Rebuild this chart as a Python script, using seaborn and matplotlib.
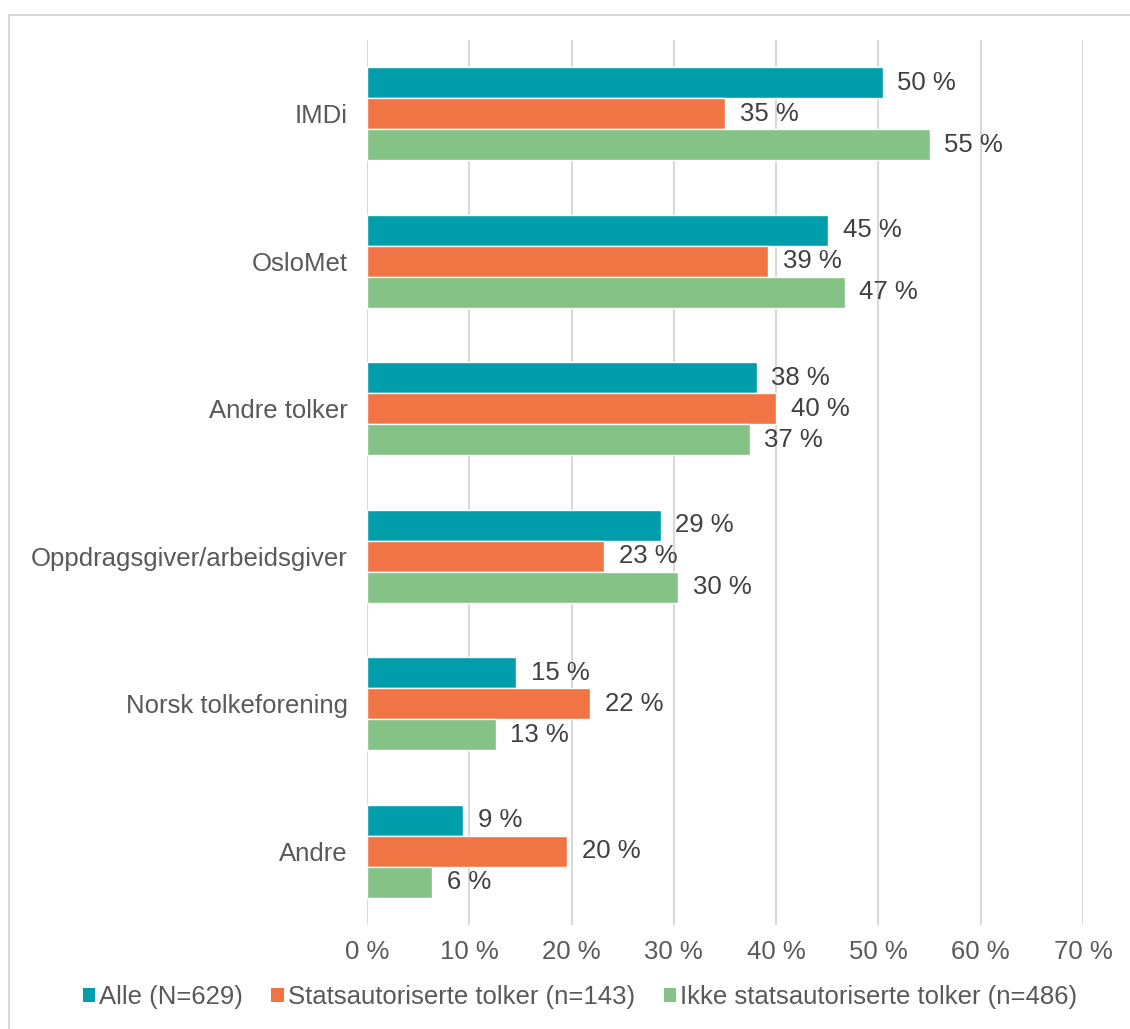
import matplotlib
matplotlib.use("Agg")
import matplotlib.pyplot as plt
import seaborn as sns
import pandas as pd
from matplotlib.patches import Patch, Rectangle

categories = ["IMDi", "OsloMet", "Andre tolker", "Oppdragsgiver/arbeidsgiver",
              "Norsk tolkeforening", "Andre"]
series = ["Alle (N=629)", "Statsautoriserte tolker (n=143)",
          "Ikke statsautoriserte tolker (n=486)"]
alle = [50.4, 45.1, 38.1, 28.7, 14.6, 9.4]
stats = [35.0, 39.2, 40.0, 23.2, 21.8, 19.6]
ikke = [55.0, 46.7, 37.4, 30.4, 12.6, 6.4]
xticks = [0, 10, 20, 30, 40, 50, 60, 70]
colors = ["#009DAA", "#F07444", "#84C285"]

rows = []
for s, vals in zip(series, [alle, stats, ikke]):
    for c, v in zip(categories, vals):
        rows.append({"kategori": c, "serie": s, "verdi": v})
df = pd.DataFrame(rows)

sns.set_style("white")
plt.rcParams["font.family"] = ["Liberation Sans", "DejaVu Sans"]
FS = 18.5

W, H = 1130, 1029
fig = plt.figure(figsize=(W / 100, H / 100), dpi=100)
ax = fig.add_axes([367 / W, 1 - 925 / H, (1083 - 367) / W, (925 - 40) / H])

sns.barplot(data=df, y="kategori", x="verdi", hue="serie", orient="h",
            order=categories, hue_order=series, palette=colors,
            width=0.63, saturation=1, ax=ax, legend=False, errorbar=None)

for cont in ax.containers:
    ax.bar_label(cont, labels=[f"{b.get_width():.0f} %" for b in cont],
                 padding=10.5, fontsize=FS, color="#404040")

ax.set_xlim(0, 70)
ax.set_ylim(5.5, -0.5)
ax.set_xticks(xticks)
ax.set_xticklabels([f"{t} %" for t in xticks])
ax.xaxis.grid(True, color="#D9D9D9", linewidth=1.5)
ax.yaxis.grid(False)
ax.set_axisbelow(True)
for sp in ax.spines.values():
    sp.set_visible(False)
ax.tick_params(axis="x", length=0, pad=11, labelsize=FS, labelcolor="#595959")
ax.tick_params(axis="y", length=0, pad=14, labelsize=FS, labelcolor="#595959")
ax.set_xlabel("")
ax.set_ylabel("")

fig.patches.append(Rectangle((9 / W, -0.1), 1.2, 1 - 15 / H + 0.1,
                             transform=fig.transFigure, fill=False,
                             edgecolor="#D9D9D9", linewidth=1.5))

handles = [Patch(facecolor=c, edgecolor="none") for c in colors]
fig.legend(handles, series, loc="center", bbox_to_anchor=(580 / W, 1 - 997 / H),
           ncol=3, frameon=False, fontsize=FS, labelcolor="#595959",
           handlelength=0.5, handleheight=0.5, handletextpad=0.15,
           columnspacing=1.1, borderaxespad=0)

fig.savefig("out.png", dpi=100)
